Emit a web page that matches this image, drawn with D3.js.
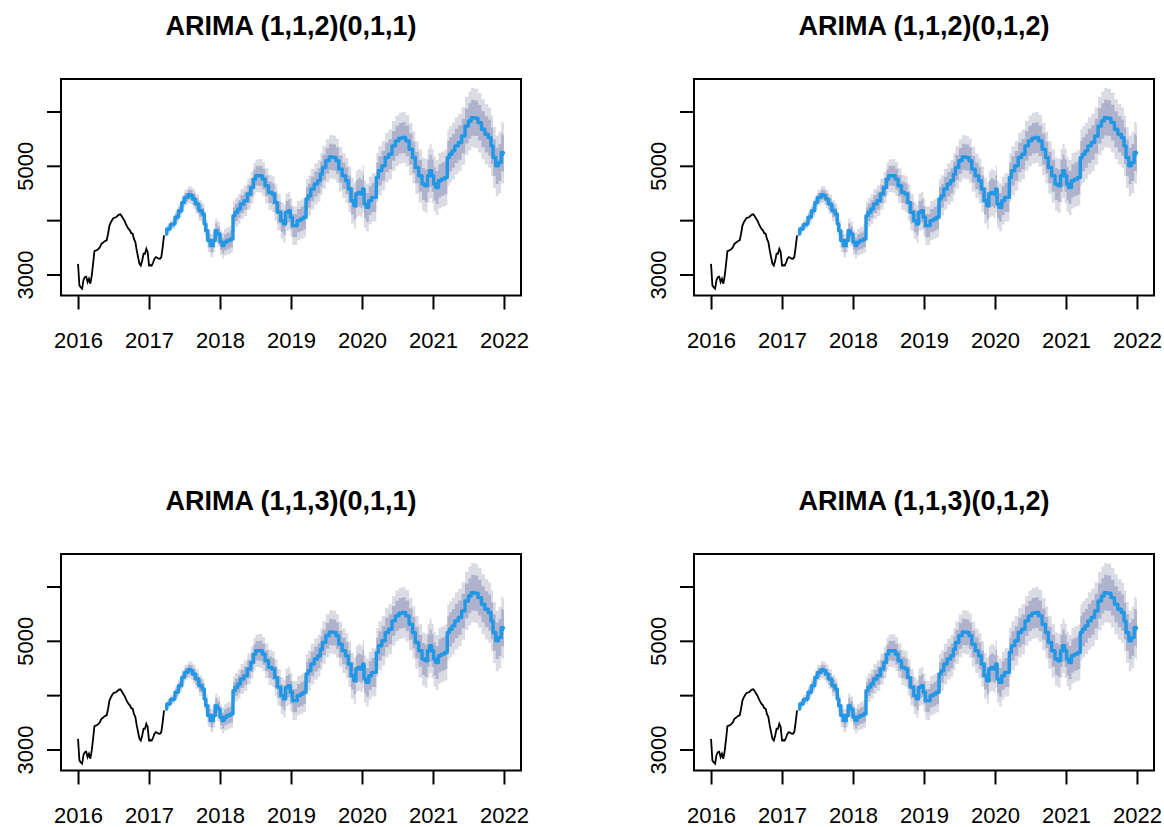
<!DOCTYPE html>
<html>
<head>
<meta charset="utf-8">
<script src="https://cdn.jsdelivr.net/npm/d3@7"></script>
<style>
  body { margin: 0; background: #fff; }
  text { font-family: "Liberation Sans", Arial, sans-serif; }
</style>
</head>
<body>
<svg id="chart"></svg>
<script>
// model titles, one per panel
const models = ['ARIMA (1,1,2)(0,1,1)', 'ARIMA (1,1,2)(0,1,2)', 'ARIMA (1,1,3)(0,1,1)', 'ARIMA (1,1,3)(0,1,2)'];

// weekly series, starts 2016 week 0, frequency 52
const startYear = 2016;
const freq = 52;
const histValues = [3196, 2800, 2760, 2737, 2900, 2950, 2960, 2860, 2920, 2830,
    2970, 3190, 3430, 3440, 3450, 3470, 3500, 3560, 3580, 3600,
    3620, 3630, 3750, 3900, 3960, 4003, 4040, 4045, 4058, 4080,
    4101, 4107, 4070, 4031, 3990, 3930, 3880, 3838, 3812, 3760,
    3750, 3650, 3597, 3443, 3318, 3197, 3166, 3257, 3381, 3379,
    3473, 3412, 3166, 3170, 3166, 3220, 3289, 3318, 3307, 3290,
    3289, 3320, 3504, 3720];

// forecast: week index (from 2016), mean, half widths of 80% / 95% intervals
const fcWeeks = [64, 66, 69, 70, 72, 75, 77, 79, 82, 83,
    85, 87, 90, 92, 93, 94, 96, 98, 100, 101,
    103, 105, 106, 108, 110, 113, 114, 116, 118, 120,
    123, 125, 128, 129, 131, 134, 136, 138, 141, 143,
    145, 147, 150, 151, 153, 155, 156, 158, 159, 162,
    164, 166, 168, 169, 172, 174, 177, 178, 180, 183,
    185, 188, 190, 192, 195, 197, 199, 201, 203, 204,
    206, 208, 209, 210, 212, 214, 216, 218, 219, 221,
    224, 226, 229, 231, 234, 236, 239, 241, 244, 246,
    248, 251, 253, 255, 257, 258, 260, 261, 263, 265,
    267, 270, 271, 273, 275, 277, 280, 282, 285, 287,
    289, 292, 294, 297, 299, 302, 303, 305, 307, 309,
    311, 312];
const fcMean = [3746, 3838, 3917, 3930, 4052, 4174, 4327, 4419, 4468, 4450,
    4388, 4297, 4174, 4113, 3930, 3807, 3624, 3532, 3624, 3807,
    3746, 3593, 3532, 3593, 3624, 3654, 4083, 4144, 4205, 4297,
    4358, 4480, 4602, 4755, 4816, 4816, 4755, 4633, 4511, 4480,
    4327, 4144, 3991, 3930, 4144, 4174, 4052, 3899, 3899, 3991,
    4021, 4052, 4388, 4450, 4572, 4664, 4725, 4847, 4969, 5092,
    5165, 5153, 5092, 4939, 4816, 4725, 4572, 4358, 4266, 4480,
    4511, 4480, 4572, 4297, 4235, 4358, 4419, 4419, 4786, 4908,
    5000, 5153, 5214, 5367, 5459, 5508, 5520, 5459, 5306, 5153,
    4969, 4816, 4664, 4633, 4816, 4908, 4816, 4664, 4602, 4725,
    4755, 4786, 5153, 5214, 5275, 5367, 5428, 5550, 5734, 5826,
    5887, 5875, 5795, 5673, 5581, 5520, 5367, 5153, 5000, 5061,
    5245, 5214];
const fcHalf80 = [24, 39, 51, 57, 63, 72, 78, 84, 93, 99,
    105, 108, 114, 117, 120, 123, 126, 129, 132, 135,
    138, 141, 144, 147, 150, 153, 156, 159, 162, 165,
    168, 171, 174, 177, 180, 186, 189, 192, 195, 198,
    201, 201, 204, 207, 207, 210, 210, 213, 213, 216,
    219, 219, 222, 222, 225, 228, 231, 231, 234, 237,
    240, 240, 243, 246, 246, 249, 252, 252, 255, 255,
    258, 258, 261, 261, 264, 264, 267, 267, 270, 270,
    273, 273, 276, 276, 279, 282, 282, 285, 288, 288,
    291, 294, 294, 297, 297, 300, 300, 303, 303, 306,
    306, 309, 309, 312, 312, 315, 318, 318, 321, 324,
    327, 327, 330, 330, 333, 333, 336, 336, 336, 339,
    339, 339];
const fcHalf95 = [40, 65, 85, 95, 105, 120, 130, 140, 155, 165,
    175, 180, 190, 195, 200, 205, 210, 215, 220, 225,
    230, 235, 240, 245, 250, 255, 260, 265, 270, 275,
    280, 285, 290, 295, 300, 310, 315, 320, 325, 330,
    335, 335, 340, 345, 345, 350, 350, 355, 355, 360,
    365, 365, 370, 370, 375, 380, 385, 385, 390, 395,
    400, 400, 405, 410, 410, 415, 420, 420, 425, 425,
    430, 430, 435, 435, 440, 440, 445, 445, 450, 450,
    455, 455, 460, 460, 465, 470, 470, 475, 480, 480,
    485, 490, 490, 495, 495, 500, 500, 505, 505, 510,
    510, 515, 515, 520, 520, 525, 530, 530, 535, 540,
    545, 545, 550, 550, 555, 555, 560, 560, 560, 565,
    565, 565];

const xTicks = [2016, 2017, 2018, 2019, 2020, 2021, 2022];
const yTicks = [3000, 4000, 5000, 6000];
const yLabelled = [3000, 5000];

const width = 1164;
const height = 827;
const panelW = 460;
const panelH = 216.5;
const panelPos = [
    {x: 61, y: 79},
    {x: 694, y: 79},
    {x: 61, y: 554},
    {x: 694, y: 554}
];

const svg = d3.select('#chart')
    .attr('width', width)
    .attr('height', height);

svg.append('rect')
    .attr('width', width)
    .attr('height', height)
    .attr('fill', '#fff');

const hist = histValues.map((v, i) => ({t: startYear + i / freq, v: v}));
const fc = fcWeeks.map((w, i) => ({
    t: startYear + w / freq,
    m: fcMean[i],
    h80: fcHalf80[i],
    h95: fcHalf95[i]
}));

const x = d3.scaleLinear()
    .domain([2015.76, 2022.24])
    .range([0, panelW]);

const y = d3.scaleLinear()
    .domain([2613, 6598])
    .range([panelH, 0]);

function drawPanel(pos, title) {
    const g = svg.append('g')
        .attr('transform', `translate(${pos.x},${pos.y})`);

    // 95% then 80% bands
    const band = key => d3.area()
        .curve(d3.curveStep)
        .x(d => x(d.t))
        .y0(d => y(d.m - d[key]))
        .y1(d => y(d.m + d[key]));

    g.append('path')
        .datum(fc)
        .attr('d', band('h95'))
        .attr('fill', '#dbdbe4');

    g.append('path')
        .datum(fc)
        .attr('d', band('h80'))
        .attr('fill', '#aeb2cc');

    g.append('path')
        .datum(hist)
        .attr('d', d3.line().x(d => x(d.t)).y(d => y(d.v)))
        .attr('fill', 'none')
        .attr('stroke', '#000')
        .attr('stroke-width', 1.8);

    g.append('path')
        .datum(fc)
        .attr('d', d3.line().curve(d3.curveStep).x(d => x(d.t)).y(d => y(d.m)))
        .attr('fill', 'none')
        .attr('stroke', '#2297e6')
        .attr('stroke-width', 3.4)
        .attr('stroke-linejoin', 'round');

    // axes
    const xAxis = g.append('g')
        .attr('transform', `translate(0,${panelH})`)
        .call(d3.axisBottom(x).tickValues(xTicks).tickSize(14).tickFormat(d3.format('d')));
    xAxis.select('.domain').remove();
    xAxis.selectAll('line').attr('stroke-width', 2);
    xAxis.selectAll('text')
        .attr('y', 52)
        .attr('dy', 0)
        .attr('fill', '#000')
        .attr('font-size', 22)
        .attr('font-family', '"Liberation Sans", Arial, sans-serif');

    const yAxis = g.append('g')
        .call(d3.axisLeft(y).tickValues(yTicks).tickSize(14)
            .tickFormat(d => yLabelled.includes(d) ? d : ''));
    yAxis.select('.domain').remove();
    yAxis.selectAll('line').attr('stroke-width', 2);
    yAxis.selectAll('text')
        .attr('x', 0)
        .attr('dy', 0)
        .attr('transform', 'translate(-28,0) rotate(-90)')
        .attr('text-anchor', 'middle')
        .attr('fill', '#000')
        .attr('font-size', 22)
        .attr('font-family', '"Liberation Sans", Arial, sans-serif');

    // box
    g.append('rect')
        .attr('width', panelW)
        .attr('height', panelH)
        .attr('fill', 'none')
        .attr('stroke', '#000')
        .attr('stroke-width', 2);

    g.append('text')
        .attr('x', panelW / 2)
        .attr('y', -44)
        .attr('text-anchor', 'middle')
        .attr('font-size', 27)
        .attr('font-weight', 'bold')
        .text(title);
}

panelPos.forEach((p, i) => drawPanel(p, models[i]));
</script>
</body>
</html>
